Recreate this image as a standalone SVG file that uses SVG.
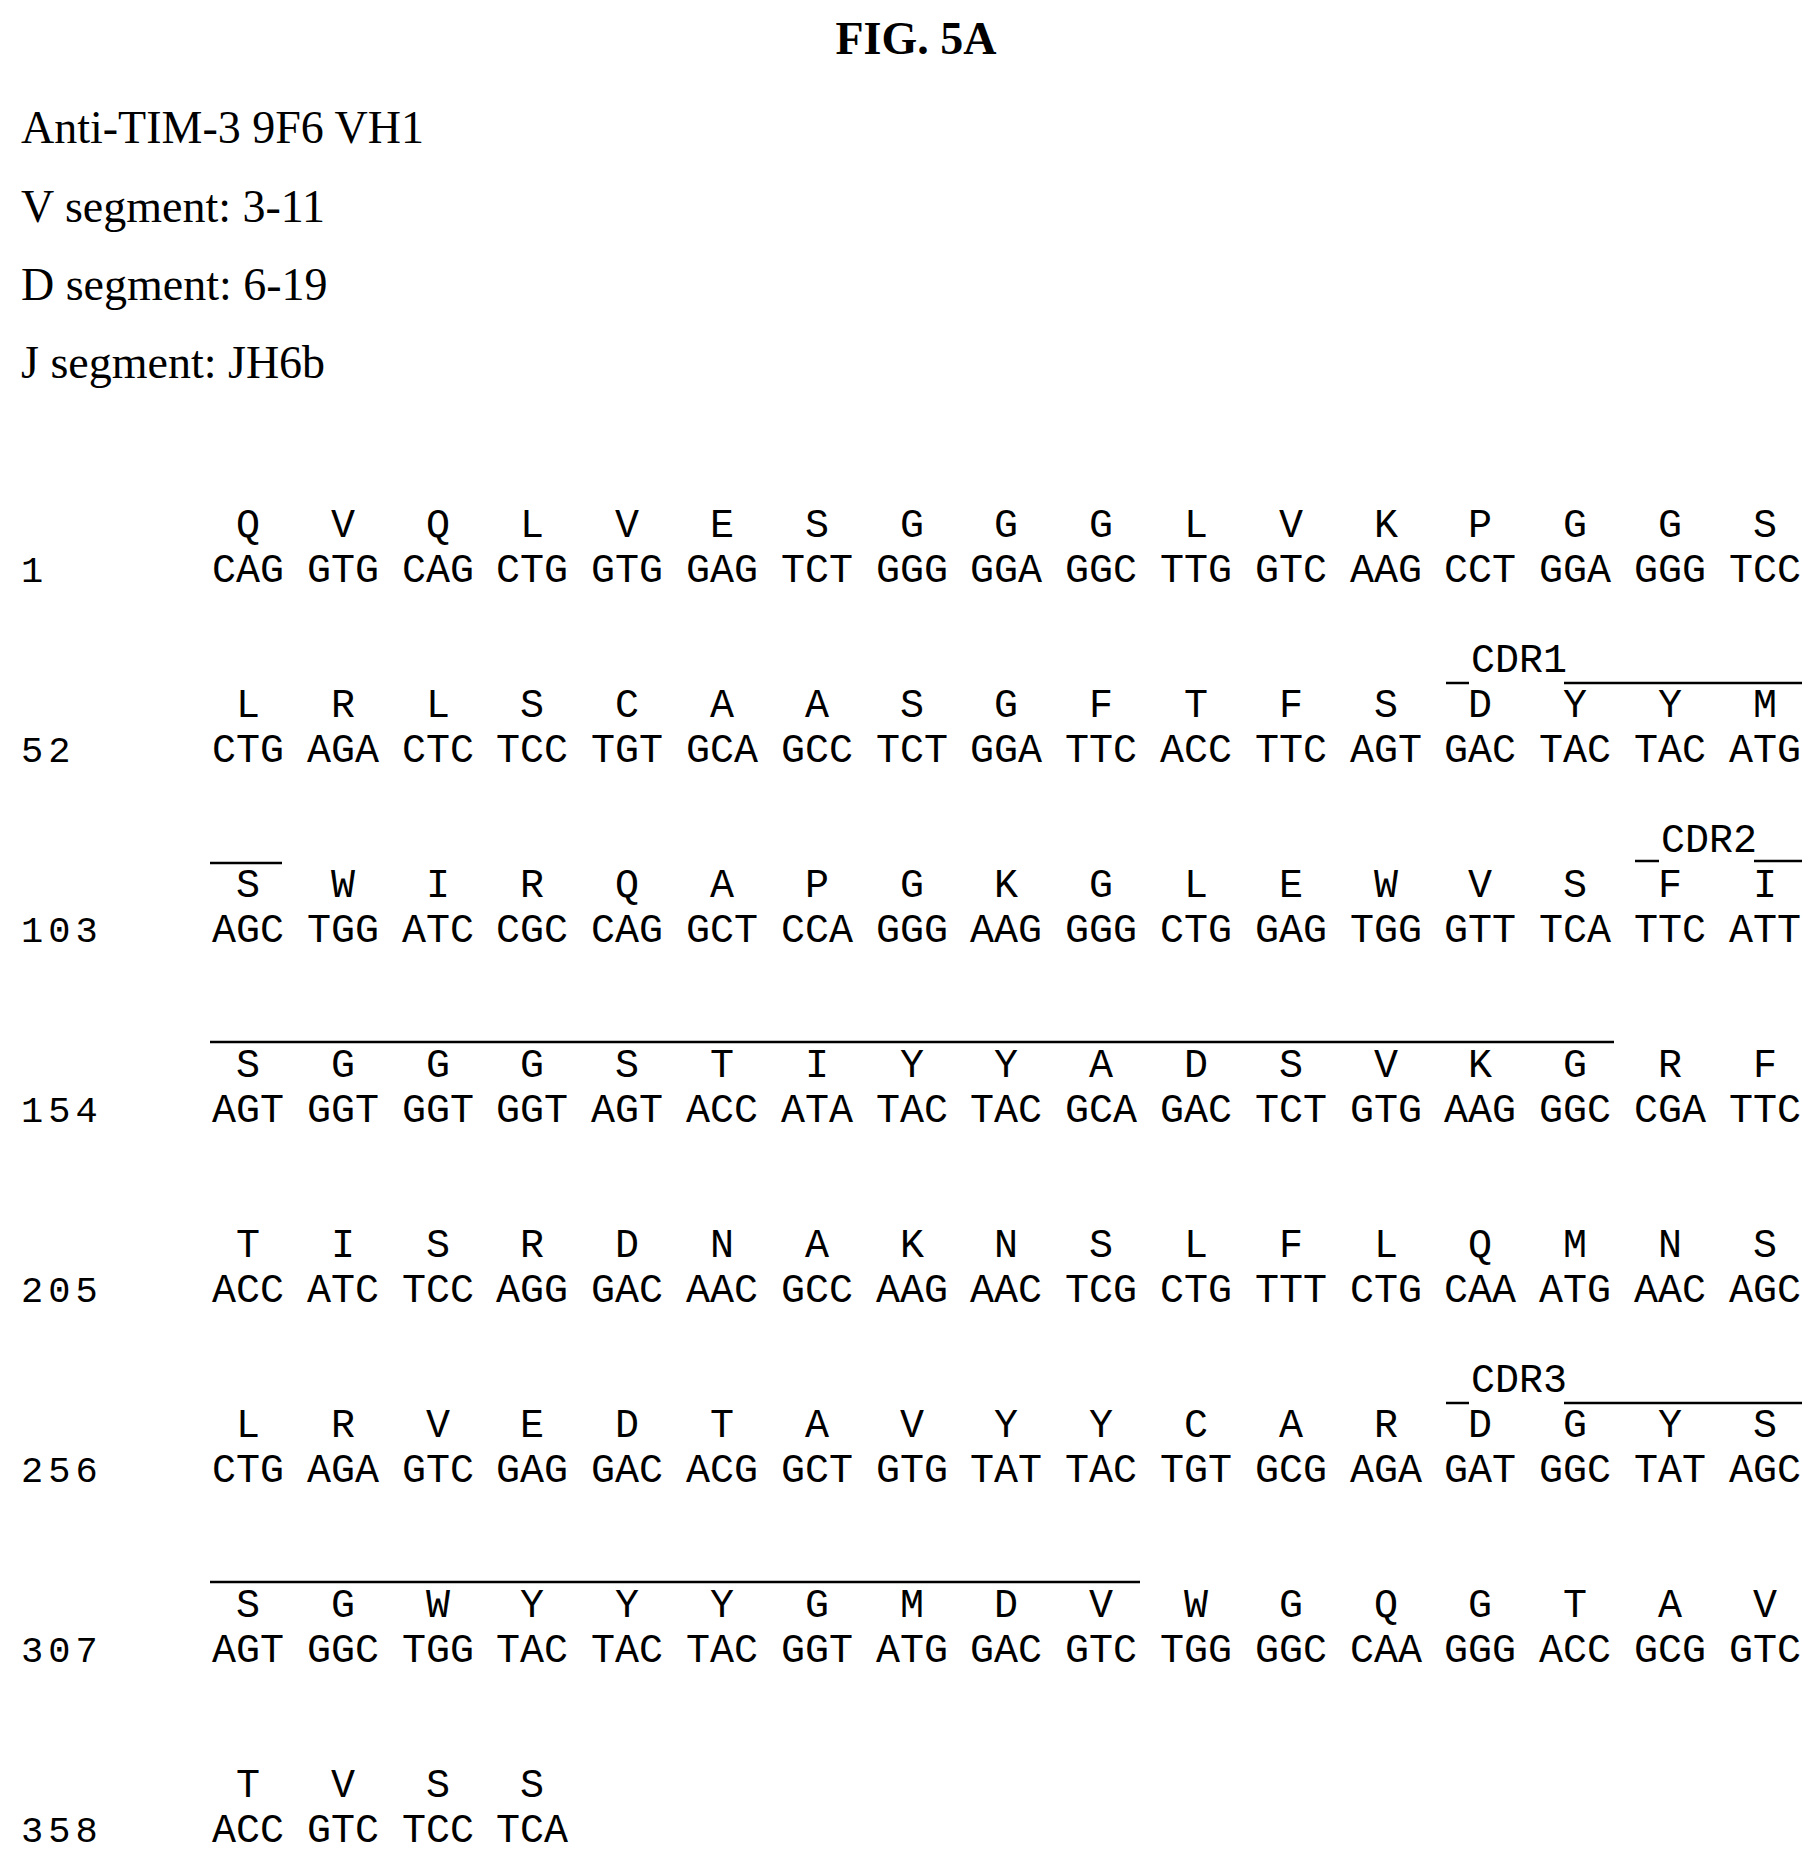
<svg xmlns="http://www.w3.org/2000/svg" width="1820" height="1859" viewBox="0 0 1820 1859">
<style>
.h{font-family:"Liberation Serif",serif;font-size:46px;fill:#000}
.t{font-family:"Liberation Serif",serif;font-size:46px;font-weight:bold;fill:#000}
.m{font-family:"Liberation Mono",monospace;font-size:40px;fill:#000}
.n{font-family:"Liberation Mono",monospace;font-size:37px;fill:#000;letter-spacing:5px}
.l{stroke:#000;stroke-width:2.5}
</style>
<rect width="1820" height="1859" fill="#fff"/>
<text class="t" x="916" y="54" text-anchor="middle">FIG. 5A</text>
<text class="h" x="21" y="143">Anti-TIM-3 9F6 VH1</text>
<text class="h" x="21" y="222">V segment: 3-11</text>
<text class="h" x="21" y="300">D segment: 6-19</text>
<text class="h" x="21" y="378">J segment: JH6b</text>
<g id="rows">
<text class="n" x="21" y="582">1</text>
<text class="n" x="21" y="762">52</text>
<text class="n" x="21" y="942">103</text>
<text class="n" x="21" y="1122">154</text>
<text class="n" x="21" y="1302">205</text>
<text class="n" x="21" y="1482">256</text>
<text class="n" x="21" y="1662">307</text>
<text class="n" x="21" y="1842">358</text>
</g>
<g id="aa" class="m" text-anchor="middle">
<text y="537"><tspan x="248">Q</tspan><tspan x="343">V</tspan><tspan x="438">Q</tspan><tspan x="532">L</tspan><tspan x="627">V</tspan><tspan x="722">E</tspan><tspan x="817">S</tspan><tspan x="912">G</tspan><tspan x="1006">G</tspan><tspan x="1101">G</tspan><tspan x="1196">L</tspan><tspan x="1291">V</tspan><tspan x="1386">K</tspan><tspan x="1480">P</tspan><tspan x="1575">G</tspan><tspan x="1670">G</tspan><tspan x="1765">S</tspan></text>
<text y="582"><tspan x="248">CAG</tspan><tspan x="343">GTG</tspan><tspan x="438">CAG</tspan><tspan x="532">CTG</tspan><tspan x="627">GTG</tspan><tspan x="722">GAG</tspan><tspan x="817">TCT</tspan><tspan x="912">GGG</tspan><tspan x="1006">GGA</tspan><tspan x="1101">GGC</tspan><tspan x="1196">TTG</tspan><tspan x="1291">GTC</tspan><tspan x="1386">AAG</tspan><tspan x="1480">CCT</tspan><tspan x="1575">GGA</tspan><tspan x="1670">GGG</tspan><tspan x="1765">TCC</tspan></text>
<text y="717"><tspan x="248">L</tspan><tspan x="343">R</tspan><tspan x="438">L</tspan><tspan x="532">S</tspan><tspan x="627">C</tspan><tspan x="722">A</tspan><tspan x="817">A</tspan><tspan x="912">S</tspan><tspan x="1006">G</tspan><tspan x="1101">F</tspan><tspan x="1196">T</tspan><tspan x="1291">F</tspan><tspan x="1386">S</tspan><tspan x="1480">D</tspan><tspan x="1575">Y</tspan><tspan x="1670">Y</tspan><tspan x="1765">M</tspan></text>
<text y="762"><tspan x="248">CTG</tspan><tspan x="343">AGA</tspan><tspan x="438">CTC</tspan><tspan x="532">TCC</tspan><tspan x="627">TGT</tspan><tspan x="722">GCA</tspan><tspan x="817">GCC</tspan><tspan x="912">TCT</tspan><tspan x="1006">GGA</tspan><tspan x="1101">TTC</tspan><tspan x="1196">ACC</tspan><tspan x="1291">TTC</tspan><tspan x="1386">AGT</tspan><tspan x="1480">GAC</tspan><tspan x="1575">TAC</tspan><tspan x="1670">TAC</tspan><tspan x="1765">ATG</tspan></text>
<text y="897"><tspan x="248">S</tspan><tspan x="343">W</tspan><tspan x="438">I</tspan><tspan x="532">R</tspan><tspan x="627">Q</tspan><tspan x="722">A</tspan><tspan x="817">P</tspan><tspan x="912">G</tspan><tspan x="1006">K</tspan><tspan x="1101">G</tspan><tspan x="1196">L</tspan><tspan x="1291">E</tspan><tspan x="1386">W</tspan><tspan x="1480">V</tspan><tspan x="1575">S</tspan><tspan x="1670">F</tspan><tspan x="1765">I</tspan></text>
<text y="942"><tspan x="248">AGC</tspan><tspan x="343">TGG</tspan><tspan x="438">ATC</tspan><tspan x="532">CGC</tspan><tspan x="627">CAG</tspan><tspan x="722">GCT</tspan><tspan x="817">CCA</tspan><tspan x="912">GGG</tspan><tspan x="1006">AAG</tspan><tspan x="1101">GGG</tspan><tspan x="1196">CTG</tspan><tspan x="1291">GAG</tspan><tspan x="1386">TGG</tspan><tspan x="1480">GTT</tspan><tspan x="1575">TCA</tspan><tspan x="1670">TTC</tspan><tspan x="1765">ATT</tspan></text>
<text y="1077"><tspan x="248">S</tspan><tspan x="343">G</tspan><tspan x="438">G</tspan><tspan x="532">G</tspan><tspan x="627">S</tspan><tspan x="722">T</tspan><tspan x="817">I</tspan><tspan x="912">Y</tspan><tspan x="1006">Y</tspan><tspan x="1101">A</tspan><tspan x="1196">D</tspan><tspan x="1291">S</tspan><tspan x="1386">V</tspan><tspan x="1480">K</tspan><tspan x="1575">G</tspan><tspan x="1670">R</tspan><tspan x="1765">F</tspan></text>
<text y="1122"><tspan x="248">AGT</tspan><tspan x="343">GGT</tspan><tspan x="438">GGT</tspan><tspan x="532">GGT</tspan><tspan x="627">AGT</tspan><tspan x="722">ACC</tspan><tspan x="817">ATA</tspan><tspan x="912">TAC</tspan><tspan x="1006">TAC</tspan><tspan x="1101">GCA</tspan><tspan x="1196">GAC</tspan><tspan x="1291">TCT</tspan><tspan x="1386">GTG</tspan><tspan x="1480">AAG</tspan><tspan x="1575">GGC</tspan><tspan x="1670">CGA</tspan><tspan x="1765">TTC</tspan></text>
<text y="1257"><tspan x="248">T</tspan><tspan x="343">I</tspan><tspan x="438">S</tspan><tspan x="532">R</tspan><tspan x="627">D</tspan><tspan x="722">N</tspan><tspan x="817">A</tspan><tspan x="912">K</tspan><tspan x="1006">N</tspan><tspan x="1101">S</tspan><tspan x="1196">L</tspan><tspan x="1291">F</tspan><tspan x="1386">L</tspan><tspan x="1480">Q</tspan><tspan x="1575">M</tspan><tspan x="1670">N</tspan><tspan x="1765">S</tspan></text>
<text y="1302"><tspan x="248">ACC</tspan><tspan x="343">ATC</tspan><tspan x="438">TCC</tspan><tspan x="532">AGG</tspan><tspan x="627">GAC</tspan><tspan x="722">AAC</tspan><tspan x="817">GCC</tspan><tspan x="912">AAG</tspan><tspan x="1006">AAC</tspan><tspan x="1101">TCG</tspan><tspan x="1196">CTG</tspan><tspan x="1291">TTT</tspan><tspan x="1386">CTG</tspan><tspan x="1480">CAA</tspan><tspan x="1575">ATG</tspan><tspan x="1670">AAC</tspan><tspan x="1765">AGC</tspan></text>
<text y="1437"><tspan x="248">L</tspan><tspan x="343">R</tspan><tspan x="438">V</tspan><tspan x="532">E</tspan><tspan x="627">D</tspan><tspan x="722">T</tspan><tspan x="817">A</tspan><tspan x="912">V</tspan><tspan x="1006">Y</tspan><tspan x="1101">Y</tspan><tspan x="1196">C</tspan><tspan x="1291">A</tspan><tspan x="1386">R</tspan><tspan x="1480">D</tspan><tspan x="1575">G</tspan><tspan x="1670">Y</tspan><tspan x="1765">S</tspan></text>
<text y="1482"><tspan x="248">CTG</tspan><tspan x="343">AGA</tspan><tspan x="438">GTC</tspan><tspan x="532">GAG</tspan><tspan x="627">GAC</tspan><tspan x="722">ACG</tspan><tspan x="817">GCT</tspan><tspan x="912">GTG</tspan><tspan x="1006">TAT</tspan><tspan x="1101">TAC</tspan><tspan x="1196">TGT</tspan><tspan x="1291">GCG</tspan><tspan x="1386">AGA</tspan><tspan x="1480">GAT</tspan><tspan x="1575">GGC</tspan><tspan x="1670">TAT</tspan><tspan x="1765">AGC</tspan></text>
<text y="1617"><tspan x="248">S</tspan><tspan x="343">G</tspan><tspan x="438">W</tspan><tspan x="532">Y</tspan><tspan x="627">Y</tspan><tspan x="722">Y</tspan><tspan x="817">G</tspan><tspan x="912">M</tspan><tspan x="1006">D</tspan><tspan x="1101">V</tspan><tspan x="1196">W</tspan><tspan x="1291">G</tspan><tspan x="1386">Q</tspan><tspan x="1480">G</tspan><tspan x="1575">T</tspan><tspan x="1670">A</tspan><tspan x="1765">V</tspan></text>
<text y="1662"><tspan x="248">AGT</tspan><tspan x="343">GGC</tspan><tspan x="438">TGG</tspan><tspan x="532">TAC</tspan><tspan x="627">TAC</tspan><tspan x="722">TAC</tspan><tspan x="817">GGT</tspan><tspan x="912">ATG</tspan><tspan x="1006">GAC</tspan><tspan x="1101">GTC</tspan><tspan x="1196">TGG</tspan><tspan x="1291">GGC</tspan><tspan x="1386">CAA</tspan><tspan x="1480">GGG</tspan><tspan x="1575">ACC</tspan><tspan x="1670">GCG</tspan><tspan x="1765">GTC</tspan></text>
<text y="1797"><tspan x="248">T</tspan><tspan x="343">V</tspan><tspan x="438">S</tspan><tspan x="532">S</tspan></text>
<text y="1842"><tspan x="248">ACC</tspan><tspan x="343">GTC</tspan><tspan x="438">TCC</tspan><tspan x="532">TCA</tspan></text>
</g>
<g id="cdr" class="m">
<text x="1471" y="672">CDR1</text>
<text x="1661" y="852">CDR2</text>
<text x="1471" y="1392">CDR3</text>
</g>
<g id="connectors" class="l">
<line x1="1446" y1="683" x2="1469" y2="683"/>
<line x1="1564" y1="683" x2="1802" y2="683"/>
<line x1="210" y1="863" x2="282" y2="863"/>
<line x1="1635" y1="861" x2="1659" y2="861"/>
<line x1="1754" y1="861" x2="1802" y2="861"/>
<line x1="210" y1="1042" x2="1614" y2="1042"/>
<line x1="1446" y1="1403" x2="1469" y2="1403"/>
<line x1="1564" y1="1403" x2="1802" y2="1403"/>
<line x1="210" y1="1582" x2="1140" y2="1582"/>
</g>
</svg>
